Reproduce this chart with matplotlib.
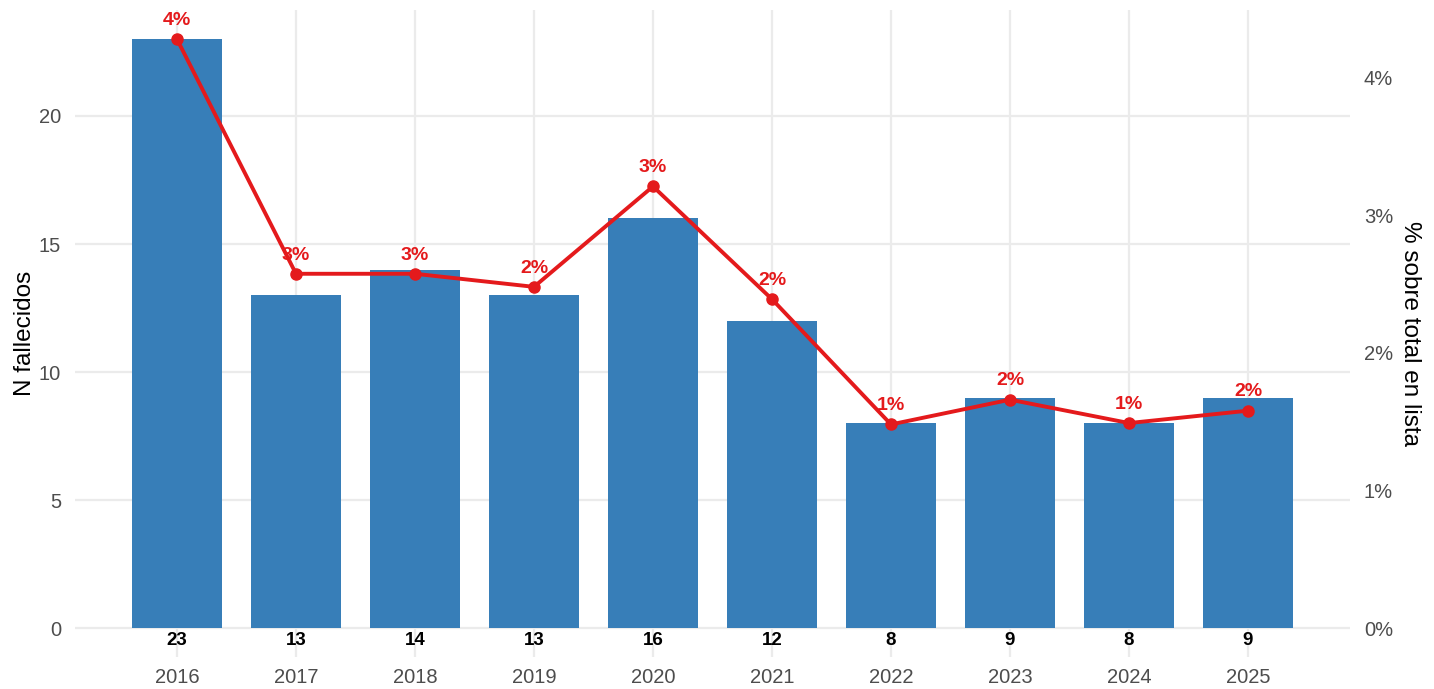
import matplotlib.pyplot as plt
from matplotlib.ticker import FuncFormatter

plt.rcParams['font.family'] = ['Liberation Sans', 'DejaVu Sans']

years = [2016, 2017, 2018, 2019, 2020, 2021, 2022, 2023, 2024, 2025]
n_fallecidos = [23, 13, 14, 13, 16, 12, 8, 9, 8, 9]
pct_total = [4.28, 2.575, 2.575, 2.48, 3.21, 2.39, 1.48, 1.66, 1.49, 1.58]

bar_color = '#377EB8'
line_color = '#E41A1C'
grid_color = '#EBEBEB'

# scale percentages onto the count axis
scale = max(n_fallecidos) / max(pct_total)
x = list(range(1, len(years) + 1))
pct_scaled = [p * scale for p in pct_total]

fig = plt.figure(figsize=(14.34, 6.89), dpi=100)
ax = fig.add_axes([75 / 1434, 32 / 689, 1275 / 1434, 647 / 689])

ax.bar(x, n_fallecidos, width=0.75, color=bar_color, zorder=2)
ax.plot(x, pct_scaled, color=line_color, linewidth=2.8, marker='o',
        markersize=8, zorder=3)

for xi, yi, p in zip(x, pct_scaled, pct_total):
    ax.annotate(f'{round(p)}%', (xi, yi), xytext=(0, 13.5), textcoords='offset points',
                ha='center', va='center', color=line_color, fontsize=14,
                fontweight='bold', zorder=4)

for xi, n in zip(x, n_fallecidos):
    ax.text(xi, -0.47, str(n), ha='center', va='center', fontsize=13.5,
            fontweight='bold', color='black')

ax.set_xlim(1 - 0.857, len(x) + 0.857)
ax.set_ylim(-1.13, 24.14)
ax.set_xticks(x)
ax.set_xticklabels([str(y) for y in years])
ax.set_yticks([0, 5, 10, 15, 20])

ax.grid(axis='y', color=grid_color, linewidth=1.6, zorder=0)
ax.grid(axis='x', color=grid_color, linewidth=1.6, zorder=0)
for s in ax.spines.values():
    s.set_visible(False)
ax.tick_params(length=0, labelsize=14.5, colors='#4D4D4D')
ax.tick_params(axis='x', pad=8)
ax.tick_params(axis='y', pad=10)
ax.set_ylabel('N fallecidos', fontsize=17.5, color='black', labelpad=2)

ax2 = ax.twinx()
ax2.set_ylim(ax.get_ylim()[0] / scale, ax.get_ylim()[1] / scale)
ax2.set_yticks([0, 1, 2, 3, 4])
ax2.yaxis.set_major_formatter(FuncFormatter(lambda v, _: f'{v:.0f}%'))
for s in ax2.spines.values():
    s.set_visible(False)
ax2.tick_params(length=0, labelsize=14.5, colors='#4D4D4D', pad=10)
ax2.set_ylabel('% sobre total en lista', fontsize=17.5, color='black',
               rotation=-90, labelpad=20)

fig.savefig('out.png', dpi=100)
